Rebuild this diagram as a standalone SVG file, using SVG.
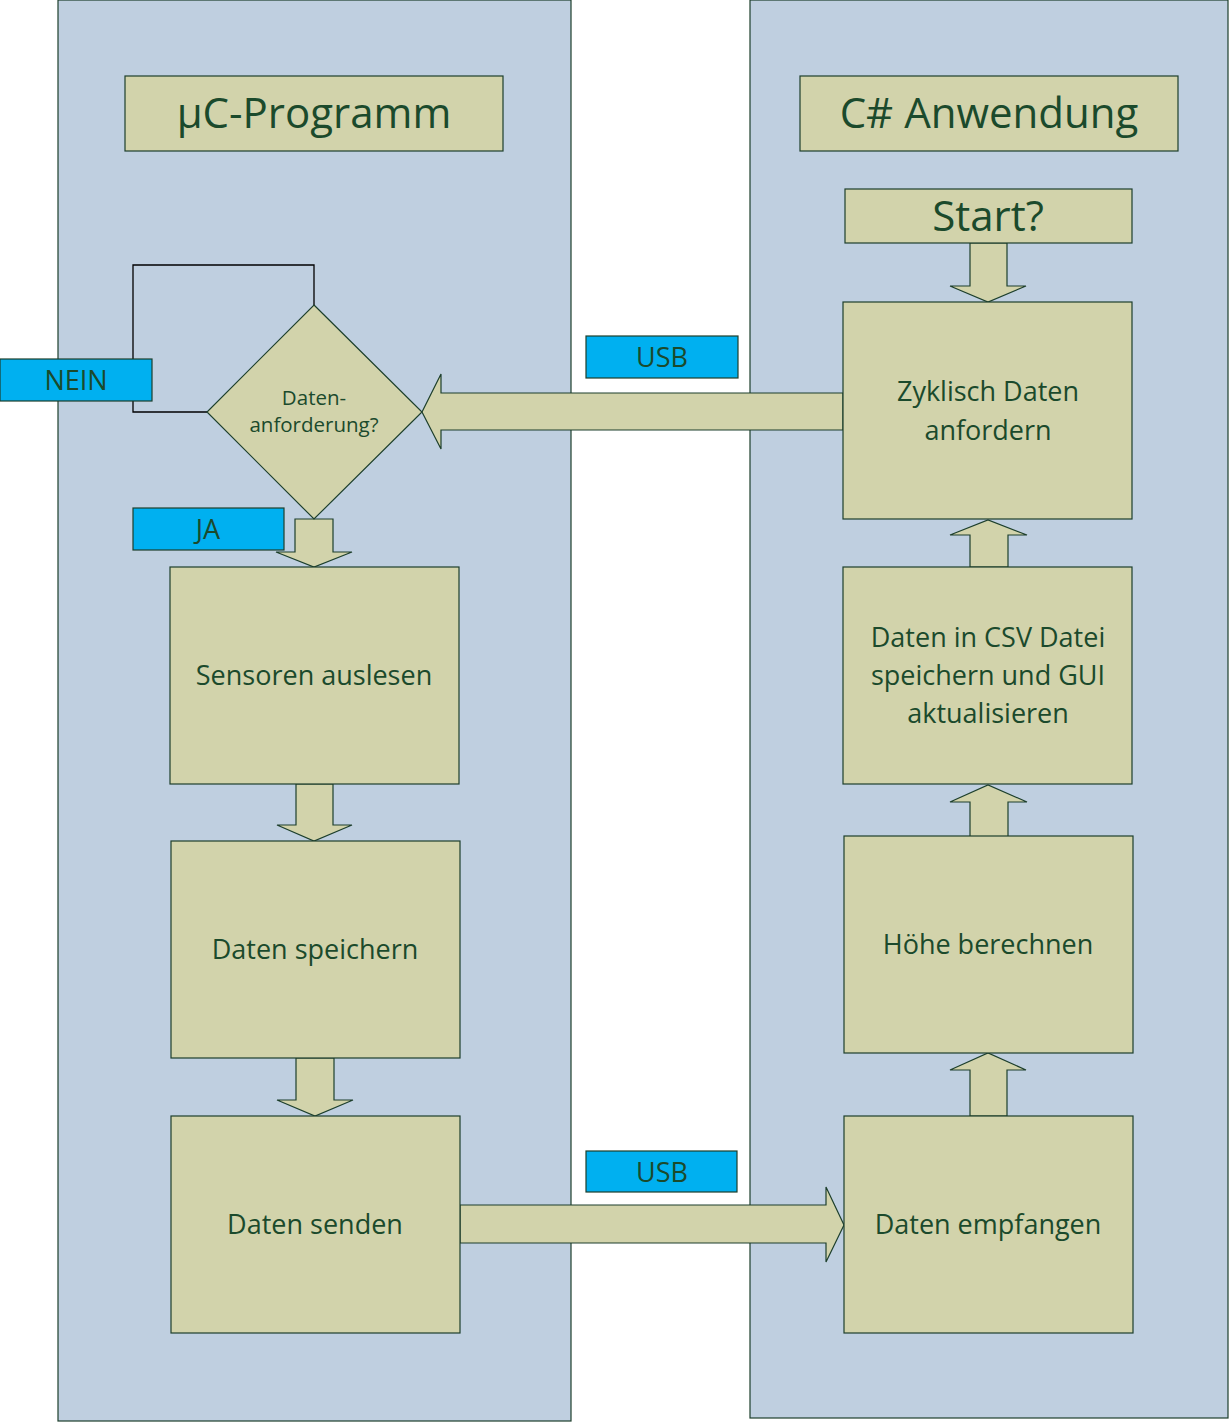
<svg xmlns="http://www.w3.org/2000/svg" width="1230" height="1423" viewBox="0 0 1230 1423">
<style>
.panel{fill:#bfcfe0;stroke:#1d3f2c;stroke-width:1.2}
.box{fill:#d2d3ab;stroke:#1d3f2c;stroke-width:1.2}
.lbl{fill:#00b0f0;stroke:#1d3f2c;stroke-width:1.2}
.arr{fill:#d2d3ab;stroke:#1d3f2c;stroke-width:1.2;stroke-linejoin:miter}
text{font-family:"Open Sans","Noto Sans",sans-serif;fill:#1b4a2c;text-anchor:middle}
.t{font-size:27px}
.l{font-size:27px}
.big{font-size:42px}
.s{font-size:20.5px}
</style>
<rect width="1230" height="1423" fill="#ffffff"/>
<g id="lane-uc"><rect class="panel" x="58" y="0" width="513" height="1421"/></g>
<g id="lane-cs"><rect class="panel" x="750" y="0" width="478" height="1418"/></g>

<g id="connectors">
<polyline points="314,305 314,265 133,265 133,412 207,412" fill="none" stroke="#000" stroke-width="1.3"/>
<polygon class="arr" points="843,393 441,393 441,374 422,412 441,449 441,430 843,430"/>
<polygon class="arr" points="460,1205 826,1205 826,1187 844,1225 826,1262 826,1243 460,1243"/>
<polygon class="arr" points="295,519 333,519 333,552 352,552 314,567 276,552 295,552"/>
<polygon class="arr" points="296,784 333,784 333,825 352,825 314,841 277,825 296,825"/>
<polygon class="arr" points="296,1058 334,1058 334,1100 353,1100 315,1116 277,1100 296,1100"/>
<polygon class="arr" points="970,243 1007,243 1007,286 1026,286 988,302 950,286 970,286"/>
<polygon class="arr" points="970,567 1008,567 1008,535 1027,535 988,520 950,535 970,535"/>
<polygon class="arr" points="970,837 1008,837 1008,802 1027,802 988,785 950,802 970,802"/>
<polygon class="arr" points="970,1116 1007,1116 1007,1070 1026,1070 988,1053 950,1070 970,1070"/>
</g>

<g id="title-uc"><rect class="box" x="125" y="76" width="378" height="75"/><text class="big" x="314" y="128">µC-Programm</text></g>
<g id="title-cs"><rect class="box" x="800" y="76" width="378" height="75"/><text class="big" x="989" y="128">C# Anwendung</text></g>
<g id="start"><rect class="box" x="845" y="189" width="287" height="54"/><text class="big" x="988" y="231">Start?</text></g>

<g id="decision"><polygon class="box" points="314,305 422,412 314,519 207,412"/>
<text class="s" x="314" y="405">Daten-</text><text class="s" x="314" y="432">anforderung?</text></g>
<g id="nein"><rect class="lbl" x="0" y="359" width="152" height="42"/><text class="l" x="76" y="390">NEIN</text></g>
<g id="ja"><rect class="lbl" x="133" y="508" width="151" height="42"/><text class="l" x="208" y="539">JA</text></g>
<g id="usb1"><rect class="lbl" x="586" y="336" width="152" height="42"/><text class="l" x="662" y="367">USB</text></g>
<g id="usb2"><rect class="lbl" x="586" y="1151" width="151" height="41"/><text class="l" x="662" y="1182">USB</text></g>

<g id="sensoren"><rect class="box" x="170" y="567" width="289" height="217"/><text class="t" x="314" y="685">Sensoren auslesen</text></g>
<g id="speichern"><rect class="box" x="171" y="841" width="289" height="217"/><text class="t" x="315" y="959">Daten speichern</text></g>
<g id="senden"><rect class="box" x="171" y="1116" width="289" height="217"/><text class="t" x="315" y="1234">Daten senden</text></g>

<g id="zyklisch"><rect class="box" x="843" y="302" width="289" height="217"/><text class="t" x="988" y="401">Zyklisch Daten</text><text class="t" x="988" y="440">anfordern</text></g>
<g id="csv"><rect class="box" x="843" y="567" width="289" height="217"/><text class="t" x="988" y="647">Daten in CSV Datei</text><text class="t" x="988" y="685">speichern und GUI</text><text class="t" x="988" y="723">aktualisieren</text></g>
<g id="hoehe"><rect class="box" x="844" y="836" width="289" height="217"/><text class="t" x="988" y="954">Höhe berechnen</text></g>
<g id="empfangen"><rect class="box" x="844" y="1116" width="289" height="217"/><text class="t" x="988" y="1234">Daten empfangen</text></g>
</svg>
